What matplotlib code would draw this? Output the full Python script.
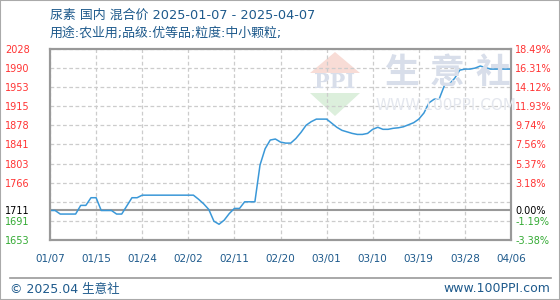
import numpy as np
import matplotlib.pyplot as plt
from matplotlib.patches import Polygon, Rectangle
from matplotlib.lines import Line2D

plt.rcParams['font.family'] = ['Noto Sans CJK SC', 'DejaVu Sans']

# daily price, 2025-01-07 .. 2025-04-07 (yuan/ton)
prices = [1711, 1711, 1704, 1704, 1704, 1704, 1721, 1721, 1736, 1736,
          1711, 1711, 1711, 1704, 1704, 1720, 1736, 1736, 1741, 1741,
          1741, 1741, 1741, 1741, 1741, 1741, 1741, 1741, 1741, 1733,
          1724, 1713, 1690, 1684, 1692, 1705, 1715, 1715, 1728, 1728,
          1728, 1800, 1832, 1849, 1851, 1845, 1843, 1843, 1852, 1864,
          1878, 1885, 1890, 1890, 1890, 1882, 1874, 1868, 1865, 1862,
          1860, 1860, 1862, 1870, 1874, 1870, 1870, 1872, 1873, 1875,
          1879, 1883, 1890, 1902, 1922, 1929, 1930, 1956, 1959, 1970,
          1986, 1988, 1988, 1990, 1994, 1991, 1988, 1988, 1988, 1988, 1988]
days = np.arange(len(prices))

base_price = 1711
x_labels = ['01/07', '01/15', '01/24', '02/02', '02/11', '02/20',
            '03/01', '03/10', '03/19', '03/28', '04/06']
pct_ticks = [18.49, 16.31, 14.12, 11.93, 9.74, 7.56, 5.37, 3.18, 0.99, 0.00, -1.19, -3.38]
left_labels = ['2028', '1990', '1953', '1915', '1878', '1841', '1803', '1766', '',
               '1711', '1691', '1653']
right_labels = ['18.49%', '16.31%', '14.12%', '11.93%', '9.74%', '7.56%', '5.37%',
                '3.18%', '', '0.00%', '-1.19%', '-3.38%']

title1 = '尿素 国内 混合价 2025-01-07 - 2025-04-07'
title2 = '用途:农业用;品级:优等品;粒度:中小颗粒;'

W, H = 560, 300
BLUE = '#1e5a8c'
RED = '#ff3333'
GREEN = '#33aa33'
LATIN_FIRST = ['DejaVu Sans', 'Noto Sans CJK SC']


def fx(x):
    return x / W


def fy(y):
    return 1 - y / H


fig = plt.figure(figsize=(5.6, 3.0), dpi=100)
ax = fig.add_axes([fx(50), fy(240), fx(511) - fx(50), fy(49) - fy(240)])

tick_vals = [base_price * (1 + p / 100) for p in pct_ticks]
ymin, ymax = tick_vals[-1], tick_vals[0]

# watermark
wm = dict(transform=fig.transFigure, zorder=0)
fig.add_artist(Polygon([[fx(335), fy(52)], [fx(310), fy(73)], [fx(360), fy(73)]],
                       closed=True, fc='#f8dcd6', ec='none', **wm))
fig.add_artist(Polygon([[fx(310), fy(93)], [fx(360), fy(93)], [fx(335), fy(116)]],
                       closed=True, fc='#dcefdc', ec='none', **wm))
fig.text(fx(335), fy(82.5), 'PPI', color='#d8deea', fontsize=15, fontweight='bold',
         ha='center', va='center', family='DejaVu Serif', zorder=0)
for cx, ch in zip([402, 447, 493], '生意社'):
    fig.text(fx(cx), fy(72), ch, color='#d8deea', fontsize=25, fontweight='bold',
             ha='center', va='center', zorder=0)
fig.text(fx(446), fy(105), 'WWW.100PPI.COM', color='#e4e7ee', fontsize=11,
         ha='center', va='center', family='DejaVu Sans', zorder=0)
ax.set_facecolor('none')

# grid
for v, lab in zip(tick_vals, left_labels):
    if lab == '1711':
        continue
    ax.axhline(v, color='#cccccc', lw=0.9, ls=(0, (3, 2)), zorder=1)
xt = np.linspace(0, days[-1], len(x_labels))
for x in xt:
    ax.axvline(x, color='#cccccc', lw=0.9, ls=(0, (3, 2)), zorder=1)
ax.axhline(base_price, color='#999999', lw=1.5, zorder=2)

ax.plot(days, prices, color='#3a98d8', lw=1.1, zorder=3)

ax.set_xlim(0, days[-1])
ax.set_ylim(ymin, ymax)
ax.set_xticks(xt)
ax.set_xticklabels(x_labels, color=BLUE, fontsize=7.5, family='DejaVu Sans')
ax.tick_params(axis='x', length=0, pad=10)

ax.set_yticks(tick_vals)
ax.set_yticklabels(left_labels, fontsize=7, family='DejaVu Sans', ha='left')
ax.tick_params(axis='y', length=0, pad=32.4)

ax2 = ax.twinx()
ax2.set_ylim(ymin, ymax)
ax2.set_yticks(tick_vals)
ax2.set_yticklabels(right_labels, fontsize=7, family='DejaVu Sans')
ax2.tick_params(axis='y', length=0, pad=3)

for labs in (ax.get_yticklabels(), ax2.get_yticklabels()):
    for t, v in zip(labs, tick_vals):
        if abs(v - base_price) < 0.5:
            t.set_color('black')
        elif v > base_price:
            t.set_color(RED)
        else:
            t.set_color(GREEN)

for a in (ax, ax2):
    for s in a.spines.values():
        s.set_color('#999999')
        s.set_linewidth(1.5)

fig.text(fx(50), fy(15), title1, color=BLUE, fontsize=9.3, va='center', ha='left',
         family=LATIN_FIRST)
fig.text(fx(50), fy(33), title2, color=BLUE, fontsize=9.3, va='center', ha='left',
         family=LATIN_FIRST)

fig.add_artist(Line2D([fx(10), fx(551)], [fy(277.5), fy(277.5)], color='#999999',
                      lw=1.2, transform=fig.transFigure))
fig.text(fx(10), fy(289), '© 2025.04 生意社', color=BLUE, fontsize=9, va='center', ha='left',
         family=LATIN_FIRST)
fig.text(fx(550), fy(289), 'www.100PPI.com', color=BLUE, fontsize=9, va='center', ha='right',
         family='DejaVu Sans')
fig.add_artist(Rectangle((0, 0), 1, 1, fill=False, ec='#aaaaaa', lw=1.5,
                         transform=fig.transFigure))

fig.savefig('out.png', dpi=100)
